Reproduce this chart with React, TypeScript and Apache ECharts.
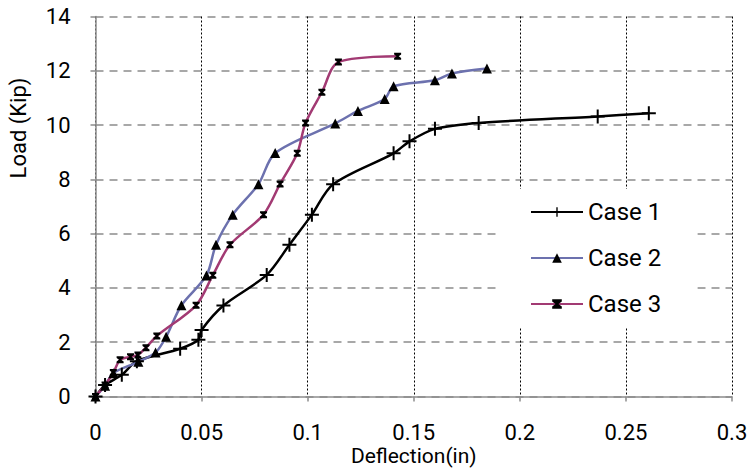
import React, { useEffect, useRef } from "react";
import * as echarts from "echarts";

const case1X = [0, 0.0045, 0.0124, 0.0195, 0.0399, 0.0485, 0.05, 0.0603, 0.0807, 0.0914, 0.102, 0.112, 0.1405, 0.148, 0.16, 0.1806, 0.2367, 0.2608];
const case1Y = [0, 0.42, 0.8, 1.3, 1.76, 2.09, 2.45, 3.35, 4.48, 5.59, 6.7, 7.82, 8.96, 9.4, 9.86, 10.08, 10.32, 10.44];

const case2X = [0, 0.0045, 0.0084, 0.0202, 0.0283, 0.0333, 0.0405, 0.0523, 0.0568, 0.0647, 0.0768, 0.0847, 0.113, 0.1237, 0.1363, 0.1405, 0.16, 0.168, 0.1845];
const case2Y = [0, 0.4, 0.86, 1.28, 1.62, 2.2, 3.36, 4.46, 5.59, 6.7, 7.82, 8.97, 10.06, 10.52, 10.96, 11.43, 11.65, 11.9, 12.08];

const case3X = [0, 0.0045, 0.0084, 0.0116, 0.0165, 0.02, 0.0238, 0.0289, 0.0474, 0.0553, 0.0634, 0.0792, 0.087, 0.0951, 0.099, 0.1067, 0.1145, 0.1424];
const case3Y = [0, 0.42, 0.88, 1.35, 1.46, 1.53, 1.8, 2.23, 3.36, 4.47, 5.59, 6.7, 7.83, 8.96, 10.08, 11.21, 12.32, 12.54];

const seriesNames = ["Case 1", "Case 2", "Case 3"];
const xTicks = { min: 0, max: 0.3, interval: 0.05 };
const yTicks = { min: 0, max: 14, interval: 2 };

const FONT = "Roboto";

const plusPath = "path://M-1,-7L1,-7L1,-1L7,-1L7,1L1,1L1,7L-1,7L-1,1L-7,1L-7,-1L-1,-1Z";
const hourglassPath = "path://M0,0L10,0L10,2.5L6.5,5L10,7.5L10,10L0,10L0,7.5L3.5,5L0,2.5Z";

const zip = (xs: number[], ys: number[]) => xs.map((x, i) => [x, ys[i]]);

export default function App() {
  const ref = useRef<HTMLDivElement>(null);
  useEffect(() => {
    if (!ref.current) return;
    const chart = echarts.init(ref.current, null, { renderer: "svg" });
    chart.setOption({
      animation: false,
      backgroundColor: "#fff",
      grid: { left: 95.5, right: 20, top: 16.5, bottom: 71.5, containLabel: false, outerBoundsMode: "none" },
      xAxis: {
        type: "value",
        min: xTicks.min,
        max: xTicks.max,
        interval: xTicks.interval,
        name: "Deflection(in)",
        nameLocation: "middle",
        nameGap: 49,
        nameMoveOverlap: false,
        nameTextStyle: { fontFamily: FONT, fontSize: 21, color: "#000" },
        axisLine: { show: true, lineStyle: { color: "#8c8c8c", width: 1.5 } },
        axisTick: { show: true, length: 5, lineStyle: { color: "#8c8c8c", width: 1.5 } },
        axisLabel: {
          margin: 25,
          fontFamily: FONT,
          fontSize: 22,
          color: "#000",
          formatter: (v: number) => String(parseFloat(v.toFixed(2))),
        },
        splitLine: { show: true, lineStyle: { color: "#000", width: 1, type: [2, 2] } },
      },
      yAxis: {
        type: "value",
        min: yTicks.min,
        max: yTicks.max,
        interval: yTicks.interval,
        axisLine: { show: true, lineStyle: { color: "#8c8c8c", width: 1.5 } },
        axisTick: { show: true, length: 5, lineStyle: { color: "#8c8c8c", width: 1.5 } },
        axisLabel: { margin: 25, fontFamily: FONT, fontSize: 22, color: "#000" },
        splitLine: { show: true, lineStyle: { color: "#8c8c8c", width: 1.5, type: [8, 6] } },
      },
      legend: {
        data: seriesNames,
        orient: "vertical",
        left: 497,
        top: 189,
        backgroundColor: "#fff",
        padding: [9, 36, 9, 33],
        itemWidth: 52,
        itemHeight: 12,
        itemGap: 18,
        itemTextGap: 6,
        textStyle: { fontFamily: FONT, fontSize: 24, color: "#000", lineHeight: 28 },
      },
      graphic: [
        {
          type: "text",
          x: 18,
          y: 128,
          rotation: Math.PI / 2,
          style: {
            text: "Load (Kip)",
            fontFamily: FONT,
            fontSize: 22,
            fill: "#000",
            align: "center",
            verticalAlign: "middle",
          },
        },
      ],
      series: [
        {
          name: seriesNames[0],
          type: "line",
          data: zip(case1X, case1Y),
          smooth: 0.3,
          symbol: plusPath,
          symbolSize: 14,
          lineStyle: { color: "#000", width: 2.5 },
          itemStyle: { color: "#000" },
        },
        {
          name: seriesNames[1],
          type: "line",
          data: zip(case2X, case2Y),
          smooth: 0.3,
          symbol: "triangle",
          symbolSize: 10,
          lineStyle: { color: "#6c71ae", width: 2.5 },
          itemStyle: { color: "#000" },
        },
        {
          name: seriesNames[2],
          type: "line",
          data: zip(case3X, case3Y),
          smooth: 0.3,
          symbol: hourglassPath,
          symbolSize: 7,
          lineStyle: { color: "#a23a73", width: 2.5 },
          itemStyle: { color: "#000" },
        },
      ],
    });
    return () => chart.dispose();
  }, []);
  return <div ref={ref} style={{ width: 752, height: 468, position: "absolute", left: 0, top: 0 }} />;
}
